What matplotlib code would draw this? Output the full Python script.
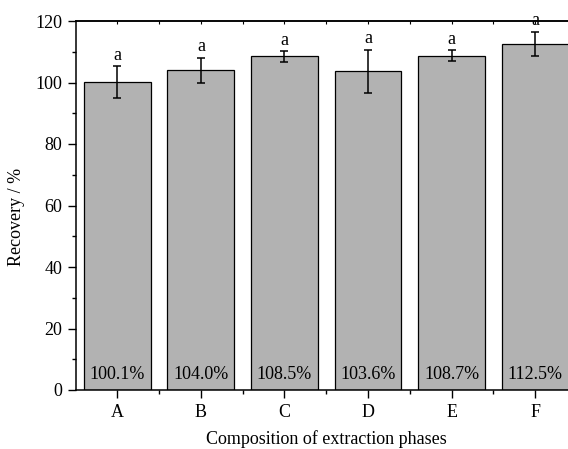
import matplotlib
matplotlib.use("Agg")
import matplotlib.pyplot as plt
from matplotlib.ticker import MultipleLocator

categories = ["A", "B", "C", "D", "E", "F"]
recovery = [100.1, 104.0, 108.5, 103.6, 108.7, 112.5]
errors = [5.2, 4.0, 1.7, 7.0, 1.8, 4.0]
letters = ["a", "a", "a", "a", "a", "a"]

plt.rcParams['font.family'] = ['Liberation Serif', 'DejaVu Serif']
plt.rcParams['font.size'] = 13

fig = plt.figure(figsize=(5.68, 4.49), dpi=100)
# axes run slightly past the right edge, as in the cropped original
ax = fig.add_axes([75.5 / 568, 59 / 449, 501.5 / 568, 369 / 449])

xs = list(range(len(categories)))
ax.bar(xs, recovery, width=0.8, color='#b2b2b2', edgecolor='black', linewidth=0.9)
ax.errorbar(xs, recovery, yerr=errors, fmt='none', ecolor='black',
            elinewidth=1.1, capsize=3, capthick=1.1)

for x, v, e, l in zip(xs, recovery, errors, letters):
    ax.text(x, v + e + 0.8, l, ha='center', va='bottom')
    ax.text(x, 2.3, f"{v:.1f}%", ha='center', va='bottom')

ax.set_xlim(-0.5, 5.5)
ax.set_ylim(0, 120)
ax.set_xticks(xs)
ax.set_xticklabels(categories)
minor_x = [x + 0.5 for x in xs[:-1]]
ax.set_xticks(minor_x, minor=True)
ax.yaxis.set_major_locator(MultipleLocator(20))
ax.yaxis.set_minor_locator(MultipleLocator(10))

ax.tick_params(which='major', direction='out', length=6, width=1.0)
ax.tick_params(which='minor', direction='out', length=3, width=1.0)
ax.tick_params(axis='x', which='major', pad=4)
for sp in ['left', 'bottom', 'top']:
    ax.spines[sp].set_linewidth(1.1)

# tiny inward ticks along the top frame
top = ax.secondary_xaxis('top')
top.set_xticks(xs)
top.set_xticks(minor_x, minor=True)
top.tick_params(which='both', direction='in', length=2, width=0.8, labeltop=False)
top.spines['top'].set_linewidth(1.1)

ax.set_xlabel("Composition of extraction phases", labelpad=7)
ax.set_ylabel("Recovery / %")
ax.yaxis.set_label_coords(-0.101, 0.468)

fig.savefig("out.png", dpi=100)
